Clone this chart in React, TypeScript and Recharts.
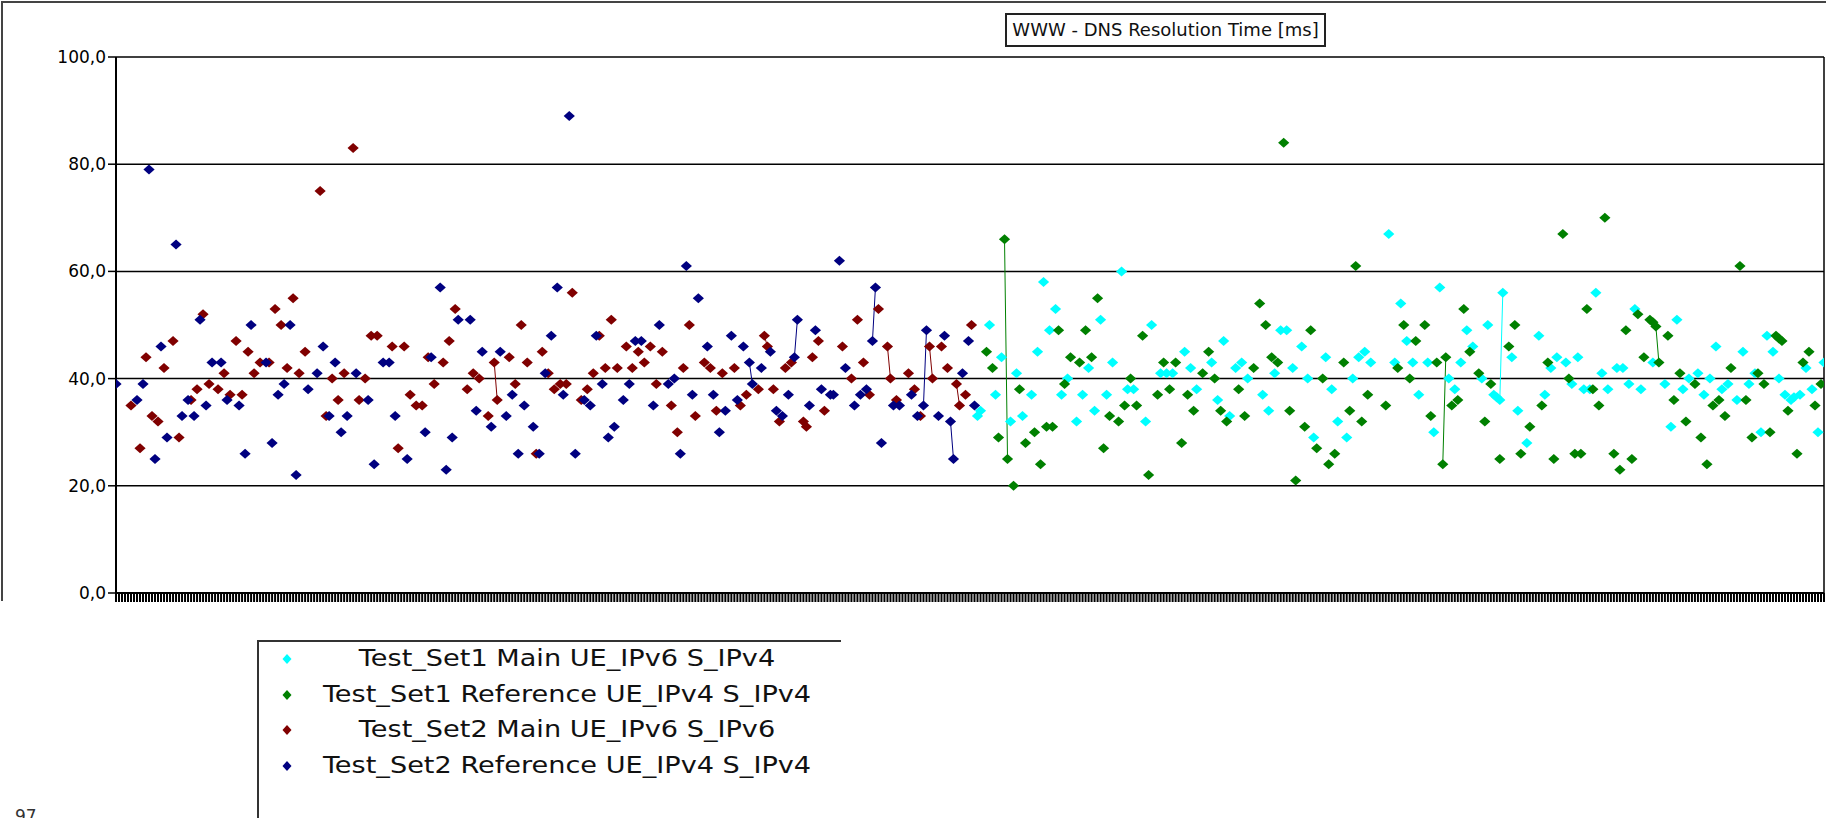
import React from 'react';
import { ComposedChart, Line, XAxis, YAxis, CartesianGrid, Legend, ReferenceLine } from 'recharts';

// ---------- data ----------
const SAMPLE_COUNT = 570; // measurement slots along the x axis (indices 0..569)
const yTicks = [0, 20, 40, 60, 80, 100];
const chartTitle = 'WWW - DNS Resolution Time [ms]';
const pageNumber = '97';

const seriesKeys = ['s1main', 's1ref', 's2main', 's2ref'];
const seriesNames = [
  'Test_Set1 Main UE_IPv6 S_IPv4',
  'Test_Set1 Reference UE_IPv4 S_IPv4',
  'Test_Set2 Main UE_IPv6 S_IPv6',
  'Test_Set2 Reference UE_IPv4 S_IPv4',
];
const seriesColors = ['#00FFFF', '#008000', '#800000', '#000080'];

// [sample index, DNS resolution time ms]
const set2Reference: [number, number][] = [
  [0, 39], [7, 36], [9, 39], [11, 79], [13, 25], [15, 46], [17, 29], [20, 65], [22, 33], [24, 36],
  [26, 33], [28, 51], [30, 35], [32, 43], [35, 43], [37, 36], [41, 35], [43, 26], [45, 50], [50, 43],
  [52, 28], [54, 37], [56, 39], [58, 50], [60, 22], [64, 38], [67, 41], [69, 46], [71, 33], [73, 43],
  [75, 30], [77, 33], [80, 41], [84, 36], [86, 24], [89, 43], [91, 43], [93, 33], [97, 25], [103, 30],
  [105, 44], [108, 57], [110, 23], [112, 29], [114, 51], [118, 51], [120, 34], [122, 45], [125, 31], [128, 45],
  [130, 33], [132, 37], [134, 26], [136, 35], [139, 31], [141, 26], [143, 41], [145, 48], [147, 57], [149, 37],
  [151, 89], [153, 26], [156, 36], [158, 35], [160, 48], [162, 39], [164, 29], [166, 31], [169, 36], [171, 39],
  [173, 47], [175, 47], [179, 35], [181, 50], [184, 39], [186, 40], [188, 26], [190, 61], [192, 37], [194, 55],
  [197, 46], [199, 37], [201, 30], [203, 34], [205, 48], [207, 36], [209, 46], [211, 43], [212, 39], [215, 42],
  [218, 45], [220, 34], [222, 33], [224, 37], [226, 44], [227, 51], [231, 35], [233, 49], [235, 38], [238, 37],
  [239, 37], [241, 62], [243, 42], [246, 35], [248, 37], [250, 38], [252, 47], [253, 57], [255, 28], [259, 35],
  [261, 35], [265, 37], [267, 33], [269, 35], [270, 49], [274, 33], [276, 48], [278, 32], [279, 25], [282, 41],
  [284, 47], [286, 35],
];

const set2Main: [number, number][] = [
  [5, 35], [8, 27], [10, 44], [12, 33], [14, 32], [16, 42], [19, 47], [21, 29], [25, 36], [27, 38],
  [29, 52], [31, 39], [34, 38], [36, 41], [38, 37], [40, 47], [42, 37], [44, 45], [46, 41], [48, 43],
  [51, 43], [53, 53], [55, 50], [57, 42], [59, 55], [61, 41], [63, 45], [68, 75], [70, 33], [72, 40],
  [74, 36], [76, 41], [79, 83], [81, 36], [83, 40], [85, 48], [87, 48], [92, 46], [94, 27], [96, 46],
  [98, 37], [100, 35], [102, 35], [104, 44], [106, 39], [109, 43], [111, 47], [113, 53], [117, 38], [119, 41],
  [121, 40], [124, 33], [126, 43], [127, 36], [131, 44], [133, 39], [135, 50], [137, 43], [140, 26], [142, 45],
  [144, 41], [146, 38], [148, 39], [150, 39], [152, 56], [155, 36], [157, 38], [159, 41], [161, 48], [163, 42],
  [165, 51], [167, 42], [170, 46], [172, 42], [174, 45], [176, 43], [178, 46], [180, 39], [182, 45], [185, 35],
  [187, 30], [189, 42], [191, 50], [193, 33], [196, 43], [198, 42], [200, 34], [202, 41], [206, 42], [208, 35],
  [210, 37], [214, 38], [216, 48], [217, 46], [219, 38], [221, 32], [223, 42], [225, 43], [229, 32], [230, 31],
  [232, 44], [234, 47], [236, 34], [242, 46], [245, 40], [247, 51], [249, 43], [251, 37], [254, 53], [257, 46],
  [258, 40], [260, 36], [264, 41], [266, 38], [268, 33], [271, 46], [272, 40], [275, 46], [277, 42], [280, 39],
  [281, 35], [283, 37], [285, 50],
];

const set1Main: [number, number][] = [
  [287, 33], [288, 34], [291, 50], [293, 37], [295, 44], [298, 32], [300, 41], [302, 33], [305, 37], [307, 45],
  [309, 58], [311, 49], [313, 53], [315, 37], [317, 40], [320, 32], [322, 37], [324, 42], [326, 34], [328, 51],
  [330, 37], [332, 43], [335, 60], [337, 38], [339, 38], [343, 32], [345, 50], [348, 41], [350, 41], [352, 41],
  [356, 45], [358, 42], [360, 38], [365, 43], [367, 36], [369, 47], [371, 33], [373, 42], [375, 43], [377, 40],
  [382, 37], [384, 34], [386, 41], [388, 49], [390, 49], [392, 42], [395, 46], [397, 40], [399, 29], [403, 44],
  [405, 38], [407, 32], [410, 29], [412, 40], [414, 44], [416, 45], [418, 43], [424, 67], [426, 43], [428, 54],
  [430, 47], [432, 43], [434, 37], [437, 43], [439, 30], [441, 57], [444, 40], [446, 38], [448, 43], [450, 49],
  [452, 46], [455, 40], [457, 50], [459, 37], [460, 36.5], [461, 36], [462, 56], [465, 44], [467, 34], [470, 28],
  [474, 48], [476, 37], [478, 42], [480, 44], [483, 43], [485, 39], [487, 44], [489, 38], [491, 38], [493, 56],
  [495, 41], [497, 38], [500, 42], [502, 42], [504, 39], [506, 53], [508, 38], [512, 43], [516, 39], [518, 31],
  [520, 51], [522, 38], [524, 40], [527, 41], [529, 37], [531, 40], [533, 46], [535, 38], [537, 39], [540, 36],
  [542, 45], [544, 39], [546, 41], [548, 30], [550, 48], [552, 45], [554, 40], [556, 37], [558, 36], [559, 36.5],
  [561, 37], [563, 42], [565, 38], [567, 30], [569, 43],
];

const set1Reference: [number, number][] = [
  [290, 45], [292, 42], [294, 29], [296, 66], [297, 25], [299, 20], [301, 38], [303, 28], [306, 30], [308, 24],
  [310, 31], [312, 31], [314, 49], [316, 39], [318, 44], [321, 43], [323, 49], [325, 44], [327, 55], [329, 27],
  [331, 33], [334, 32], [336, 35], [338, 40], [340, 35], [342, 48], [344, 22], [347, 37], [349, 43], [351, 38],
  [353, 43], [355, 28], [357, 37], [359, 34], [362, 41], [364, 45], [366, 40], [368, 34], [370, 32], [374, 38],
  [376, 33], [379, 42], [381, 54], [383, 50], [385, 44], [387, 43], [389, 84], [391, 34], [393, 21], [396, 31],
  [398, 49], [400, 27], [402, 40], [404, 24], [406, 26], [409, 43], [411, 34], [413, 61], [415, 32], [417, 37],
  [423, 35], [427, 42], [429, 50], [431, 40], [433, 47], [436, 50], [438, 33], [440, 43], [442, 24], [443, 44],
  [445, 35], [447, 36], [449, 53], [451, 45], [454, 41], [456, 32], [458, 39], [461, 25], [464, 46], [466, 50],
  [468, 26], [471, 31], [475, 35], [477, 43], [479, 25], [482, 67], [484, 40], [486, 26], [488, 26], [490, 53],
  [492, 38], [494, 35], [496, 70], [499, 26], [501, 23], [503, 49], [505, 25], [507, 52], [509, 44], [511, 51],
  [512, 50.5], [513, 49.7], [514, 43], [517, 48], [519, 36], [521, 41], [523, 32], [526, 39], [528, 29], [530, 24],
  [532, 35], [534, 36], [536, 33], [538, 42], [541, 61], [543, 36], [545, 29], [547, 41], [549, 39], [551, 30],
  [553, 48], [554, 47.5], [555, 47], [557, 34], [560, 26], [562, 43], [564, 45], [566, 35], [568, 39],
];

const seriesData = [set1Main, set1Reference, set2Main, set2Reference];

// ---------- table built from the arrays ----------
const rows: Record<string, number>[] = Array.from({ length: SAMPLE_COUNT }, (_, i) => ({ i }));
seriesData.forEach((pairs, s) => {
  pairs.forEach(([idx, v]) => {
    rows[idx][seriesKeys[s]] = v;
  });
});
const xTicks = rows.map((r) => r.i);

// ---------- rendering helpers ----------
const makeDiamond = (color: string) => (props: any) => {
  const { cx, cy, value, index } = props;
  if (cx == null || cy == null || value == null || Number.isNaN(cy)) {
    return <g key={`e-${index}`} />;
  }
  return (
    <polygon
      key={`d-${index}`}
      points={`${cx},${cy - 5} ${cx + 5.6},${cy} ${cx},${cy + 5} ${cx - 5.6},${cy}`}
      fill={color}
    />
  );
};

const fmtY = (v: number) => v.toFixed(1).replace('.', ',');

const renderLegend = (props: any) => {
  const payload = [...(props.payload || [])].sort(
    (a: any, b: any) => seriesNames.indexOf(a.value) - seriesNames.indexOf(b.value)
  );
  return (
    <div
      style={{
        position: 'relative',
        width: 584,
        height: 178,
        borderTop: '2px solid #333',
        borderLeft: '2px solid #333',
        boxSizing: 'border-box',
        fontFamily: '"DejaVu Sans", sans-serif',
        color: '#111',
      }}
    >
      {payload.map((entry: any, k: number) => (
        <div key={k} style={{ position: 'absolute', left: 0, top: 16 + k * 35.7 - 18, width: '100%', height: 36 }}>
          <svg style={{ position: 'absolute', left: 22, top: 13 }} width={12} height={12}>
            <polygon points="6,1 10.5,6 6,11 1.5,6" fill={entry.color} />
          </svg>
          <span
            style={{
              position: 'absolute',
              left: 308,
              top: '50%',
              transform: 'translate(-50%, -50%) scaleX(1.18)',
              whiteSpace: 'nowrap',
              fontSize: 23,
              lineHeight: 1,
            }}
          >
            {entry.value}
          </span>
        </div>
      ))}
    </div>
  );
};

export default function App() {
  return (
    <div
      style={{
        position: 'absolute',
        left: 0,
        top: 0,
        width: 1826,
        height: 818,
        overflow: 'hidden',
        background: '#fff',
      }}
    >
      {/* outer frame (top & left) */}
      <div
        style={{
          position: 'absolute',
          left: 1,
          top: 1,
          width: 1825,
          height: 600,
          borderTop: '2px solid #444',
          borderLeft: '2px solid #444',
          boxSizing: 'border-box',
        }}
      />
      <ComposedChart
        width={1826}
        height={818}
        data={rows}
        margin={{ top: 57, right: 2, left: 46, bottom: 195 }}
      >
        <CartesianGrid horizontal vertical={false} stroke="#000" strokeWidth={1.5} />
        <XAxis
          dataKey="i"
          type="number"
          domain={[0, SAMPLE_COUNT - 1]}
          ticks={xTicks}
          interval={0}
          tickFormatter={() => ''}
          tickSize={9}
          height={30}
          axisLine={{ stroke: '#000', strokeWidth: 2 }}
          tickLine={{ stroke: '#000', strokeWidth: 2 }}
          allowDataOverflow
        />
        <YAxis
          type="number"
          domain={[0, 100]}
          ticks={yTicks}
          interval={0}
          tickFormatter={fmtY}
          width={70}
          tickSize={8}
          tickMargin={2}
          axisLine={{ stroke: '#000', strokeWidth: 2 }}
          tickLine={{ stroke: '#000', strokeWidth: 1.5 }}
          tick={{ fontFamily: '"DejaVu Sans", sans-serif', fontSize: 17, fill: '#000' }}
        />
        <ReferenceLine x={SAMPLE_COUNT - 1} stroke="#000" strokeWidth={1.5} />
        {seriesKeys.map((key, s) => (
          <Line
            key={key}
            dataKey={key}
            name={seriesNames[s]}
            type="linear"
            stroke={seriesColors[s]}
            strokeWidth={1}
            connectNulls={false}
            dot={makeDiamond(seriesColors[s])}
            activeDot={false}
            isAnimationActive={false}
            legendType="diamond"
          />
        ))}
        <Legend
          layout="vertical"
          align="center"
          verticalAlign="middle"
          content={renderLegend}
          wrapperStyle={{ left: 257, top: 640, width: 584, height: 178 }}
        />
      </ComposedChart>
      {/* title box */}
      <div
        style={{
          position: 'absolute',
          left: 1005,
          top: 13,
          width: 321,
          height: 34,
          border: '2px solid #222',
          boxSizing: 'border-box',
          fontFamily: '"DejaVu Sans", sans-serif',
          fontSize: 18,
          lineHeight: '30px',
          textAlign: 'center',
          color: '#111',
          whiteSpace: 'nowrap',
        }}
      >
        {chartTitle}
      </div>
      <div
        style={{
          position: 'absolute',
          left: 15,
          top: 806,
          fontFamily: '"DejaVu Sans", sans-serif',
          fontSize: 17,
          color: '#333',
        }}
      >
        {pageNumber}
      </div>
    </div>
  );
}
